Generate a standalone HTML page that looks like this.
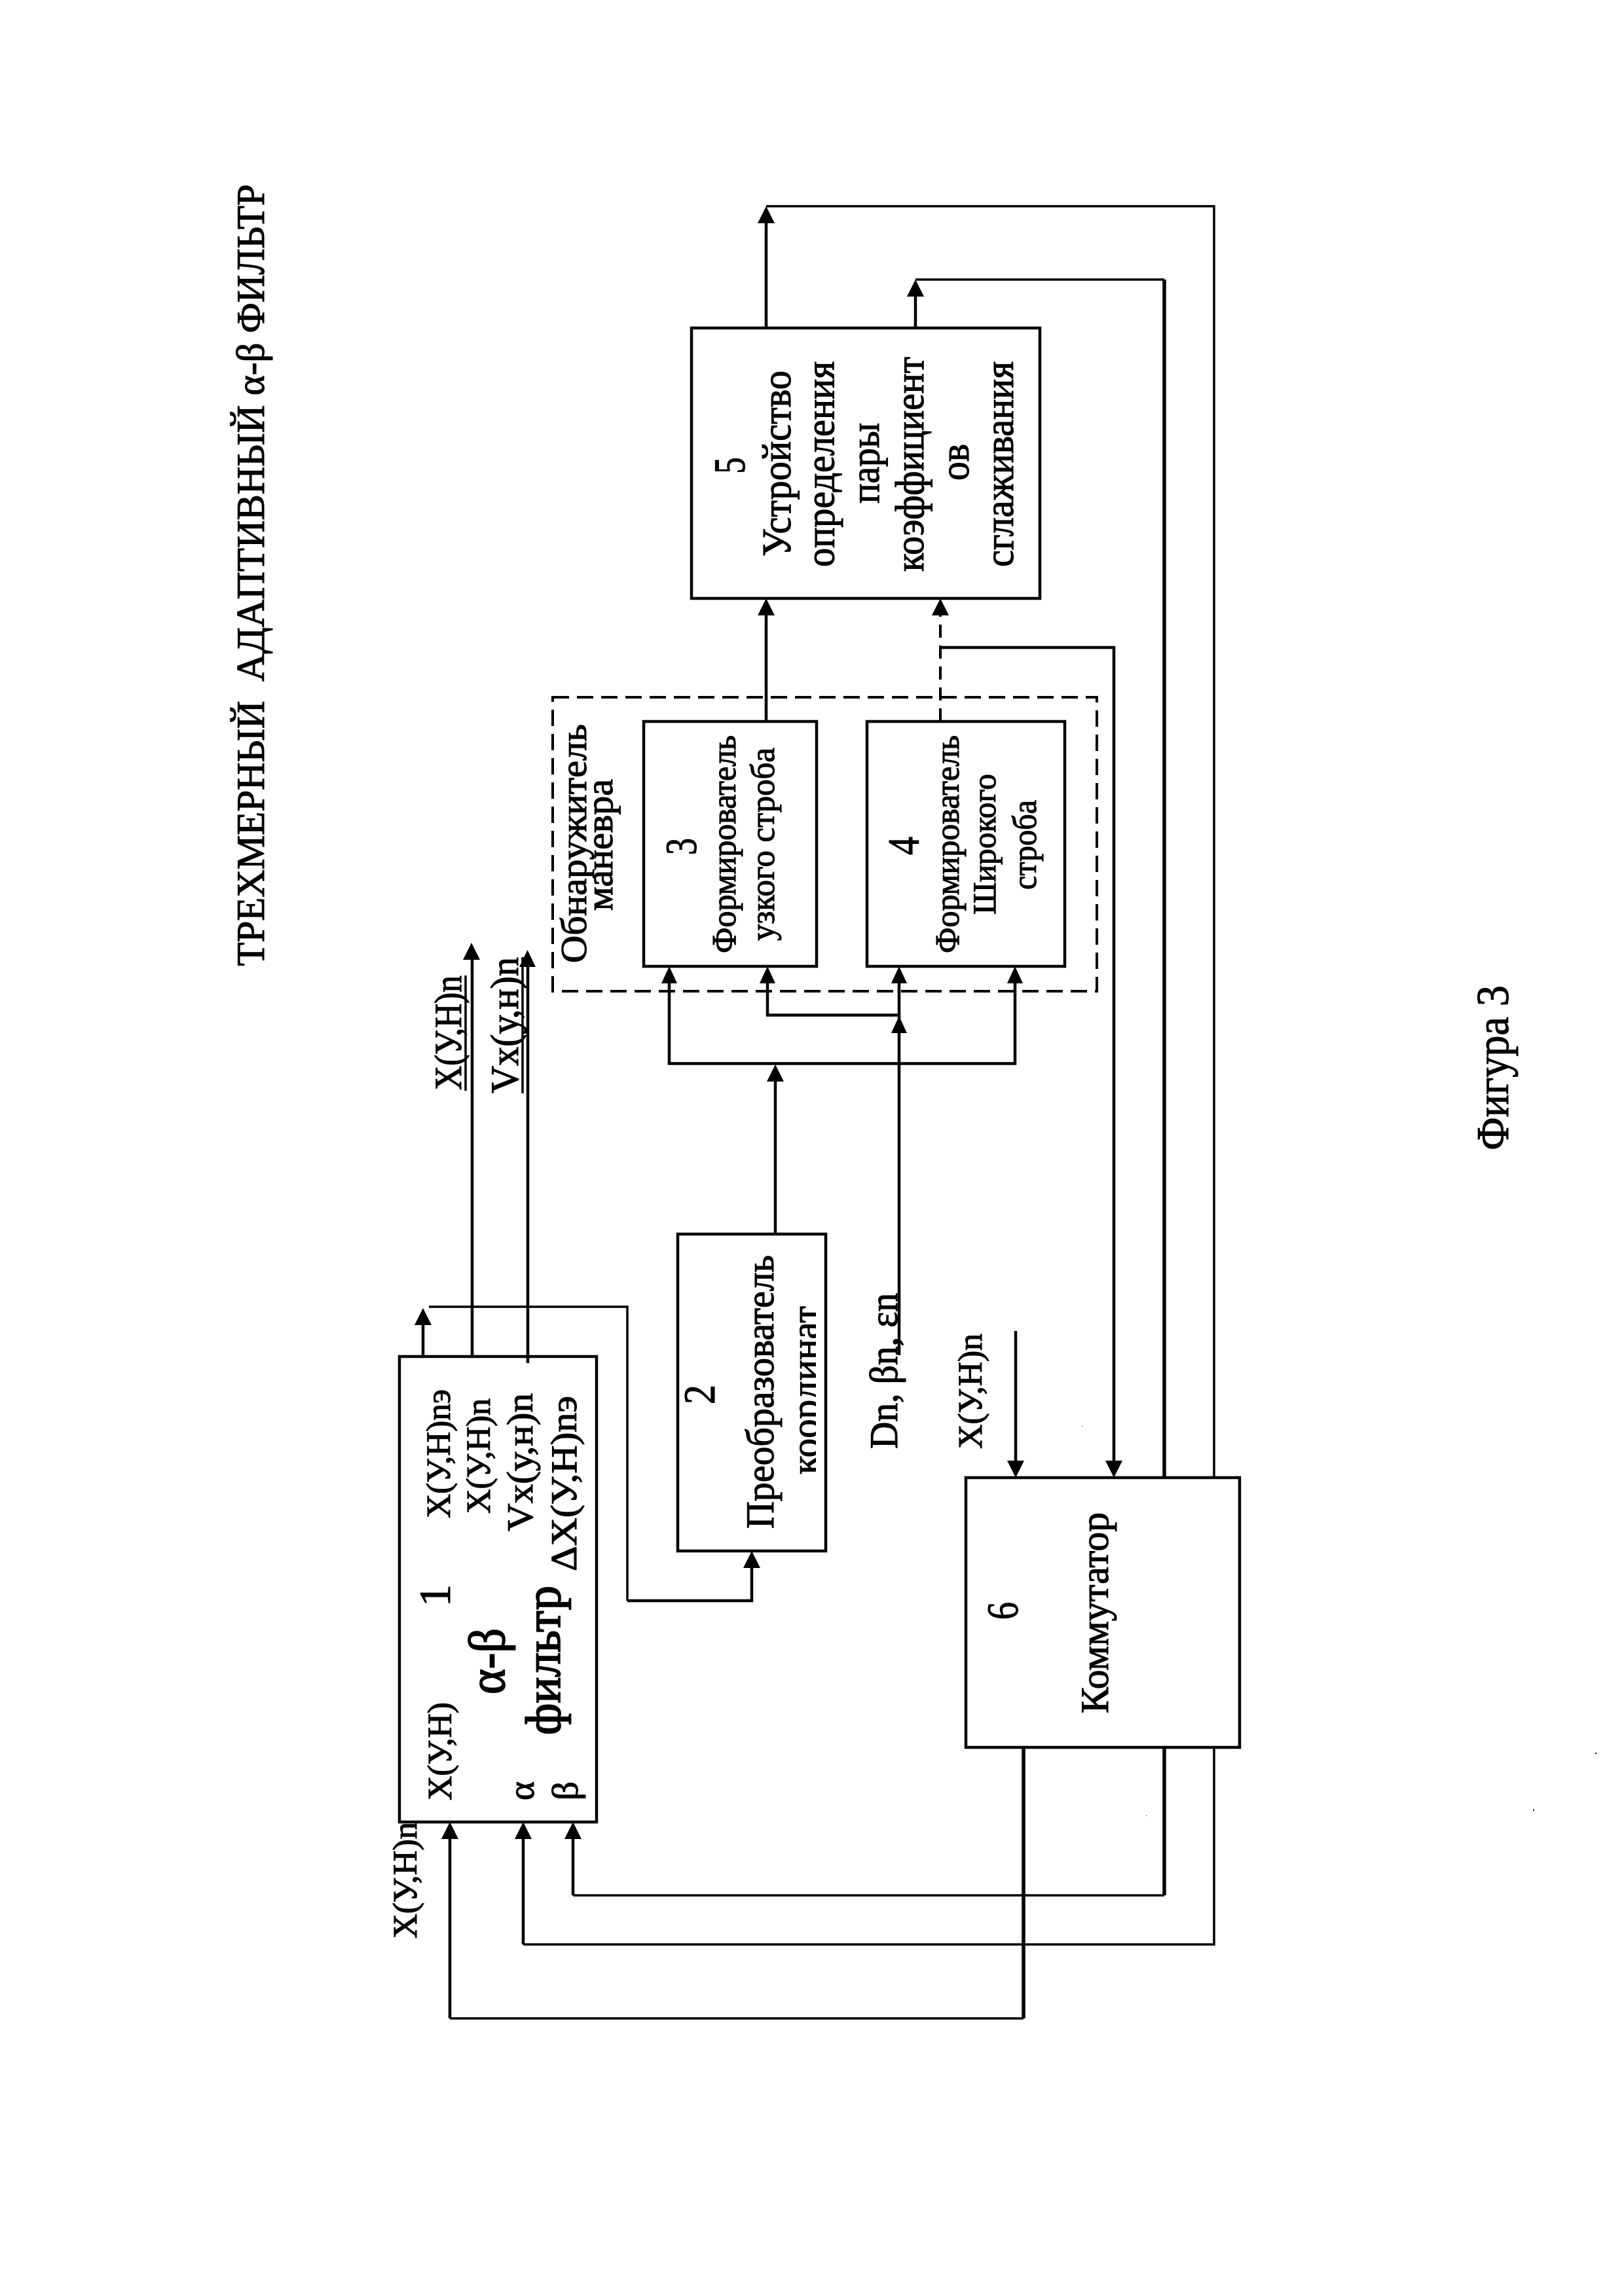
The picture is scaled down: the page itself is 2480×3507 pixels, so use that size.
<!DOCTYPE html>
<html><head><meta charset="utf-8"><style>
html,body{margin:0;padding:0;background:#fff}
svg{display:block}
text{font-family:"Liberation Serif","DejaVu Serif",serif;fill:#000;stroke:#000;stroke-width:1.1;white-space:pre}
.l{fill:none;stroke:#000;stroke-width:4.5;stroke-linejoin:miter}
.t{fill:none;stroke:#000;stroke-width:3.5}
.b{fill:none;stroke:#000;stroke-width:5.5}
.d{fill:none;stroke:#000;stroke-width:4}
polygon{fill:#000}
</style></head><body>
<svg xmlns="http://www.w3.org/2000/svg" width="2480" height="3507" viewBox="0 0 2480 3507">
<defs><clipPath id="c2"><rect x="1150" y="1900" width="96" height="400"/></clipPath></defs>
<rect width="2480" height="3507" fill="#fff"/>

<!-- boxes -->
<rect class="l" x="610" y="2072" width="301" height="711"/>
<rect class="l" x="1035" y="1885" width="226" height="484"/>
<rect class="l" x="983" y="1102" width="264" height="374"/>
<rect class="l" x="1324" y="1102" width="302" height="374"/>
<rect class="l" x="1056" y="501" width="532" height="413"/>
<rect class="l" x="1475" y="2257" width="418" height="412"/>
<rect class="d" x="844" y="1065" width="831" height="449" stroke-dasharray="25 12"/>

<!-- connectors -->
<path class="l" d="M646 2072V2020"/>
<path class="t" d="M655 1996H958V2445"/>
<path class="l" d="M958 2445H1148V2390"/>
<path class="l" d="M721 2072V1460"/>
<path class="l" d="M806 2082V1470"/>
<path class="l" d="M1184 1885V1650"/>
<path class="l" d="M1022 1495V1624.5H1550V1495"/>
<path class="l" d="M1172 1495V1550.5H1373"/>
<path class="l" d="M1373 2070V1495"/>
<path class="l" d="M1170 1102V935"/>
<path class="d" d="M1436 1102V935" stroke-dasharray="20 12"/>
<path class="l" d="M1436 989H1701V2235"/>
<path class="l" d="M1170 501V335"/>
<path class="t" d="M1170 315H1854V2257"/>
<path class="l" d="M1398 501V445"/>
<path class="t" d="M1398 427H1778"/>
<path class="b" d="M1778 427V2257"/>
<path class="l" d="M1551 2033V2235"/>
<path class="b" d="M1563 2669V3083"/>
<path class="t" d="M1563 3083H687"/>
<path class="l" d="M687 3083V2805"/>
<path class="t" d="M1854 2669V2970H799"/>
<path class="l" d="M799 2970V2805"/>
<path class="b" d="M1778 2669V2895"/>
<path class="t" d="M1778 2895H875"/>
<path class="l" d="M875 2895V2805"/>

<!-- arrowheads -->
<polygon points="646,1998 633,2024 659,2024"/>
<polygon points="720,1440 707,1466 733,1466"/>
<polygon points="805.5,1451 793,1477 818,1477"/>
<polygon points="1148,2369 1135,2395 1161,2395"/>
<polygon points="1184,1626 1171,1652 1197,1652"/>
<polygon points="1022,1476 1010,1502 1034,1502"/>
<polygon points="1172,1476 1160,1502 1184,1502"/>
<polygon points="1373,1476 1361,1502 1385,1502"/>
<polygon points="1550,1476 1538,1502 1562,1502"/>
<polygon points="1373,1552 1361,1578 1385,1578"/>
<polygon points="1170,914 1157,940 1183,940"/>
<polygon points="1436,914 1423,940 1449,940"/>
<polygon points="1170,315 1157,341 1183,341"/>
<polygon points="1398,427 1385,453 1411,453"/>
<polygon points="687,2783 674,2809 700,2809"/>
<polygon points="799,2783 786,2809 812,2809"/>
<polygon points="875,2783 862,2809 888,2809"/>
<polygon points="1551,2257 1538,2231 1564,2231"/>
<polygon points="1701,2257 1688,2231 1714,2231"/>

<!-- underlines -->
<path class="t" d="M711 1666V1490"/>
<path class="t" d="M798 1670V1462"/>

<!-- text -->
<text transform="translate(403,1475.5) rotate(-90)" font-size="60" textLength="1194" lengthAdjust="spacingAndGlyphs">ТРЕХМЕРНЫЙ  АДАПТИВНЫЙ α-β ФИЛЬТР</text>
<text transform="translate(2303,1757) rotate(-90)" font-size="70" textLength="252" lengthAdjust="spacingAndGlyphs">Фигура 3</text>

<text transform="translate(687,2319) rotate(-90)" font-size="52" textLength="197" lengthAdjust="spacingAndGlyphs">X(У,Н)nэ</text>
<text transform="translate(748,2312) rotate(-90)" font-size="52" textLength="176" lengthAdjust="spacingAndGlyphs">X(У,Н)n</text>
<text transform="translate(813,2339) rotate(-90)" font-size="56" textLength="211" lengthAdjust="spacingAndGlyphs">Vx(у,н)n</text>
<text transform="translate(880,2400) rotate(-90)" font-size="56" textLength="268" lengthAdjust="spacingAndGlyphs">ΔX(У,Н)nэ</text>
<text transform="translate(687,2454) rotate(-90)" font-size="68">1</text>
<text transform="translate(770,2588) rotate(-90)" font-size="78" textLength="101" lengthAdjust="spacingAndGlyphs" style="stroke-width:1.8">α-β</text>
<text transform="translate(855,2650) rotate(-90)" font-size="76" textLength="228" lengthAdjust="spacingAndGlyphs" style="stroke-width:1.8">фильтр</text>
<text transform="translate(689,2750) rotate(-90)" font-size="52" textLength="150" lengthAdjust="spacingAndGlyphs">X(У,Н)</text>
<text transform="translate(815,2750) rotate(-90)" font-size="56" textLength="29" lengthAdjust="spacingAndGlyphs">α</text>
<text transform="translate(882,2750) rotate(-90)" font-size="56" textLength="29" lengthAdjust="spacingAndGlyphs">β</text>
<text transform="translate(636,2961) rotate(-90)" font-size="52" textLength="178" lengthAdjust="spacingAndGlyphs">X(У,Н)n</text>

<text transform="translate(704,1665) rotate(-90)" font-size="58" textLength="175" lengthAdjust="spacingAndGlyphs">X(У,Н)n</text>
<text transform="translate(791,1670) rotate(-90)" font-size="60" textLength="208" lengthAdjust="spacingAndGlyphs">Vx(у,н)n</text>

<text transform="translate(1091,2145) rotate(-90)" font-size="68" textLength="30" lengthAdjust="spacingAndGlyphs">2</text>
<text transform="translate(1181,2335) rotate(-90)" font-size="60" textLength="418" lengthAdjust="spacingAndGlyphs">Преобразователь</text>
<g clip-path="url(#c2)"><text transform="translate(1250,2252) rotate(-90)" font-size="60" textLength="257" lengthAdjust="spacingAndGlyphs">координат</text></g>

<text transform="translate(1370,2213) rotate(-90)" font-size="60" textLength="238" lengthAdjust="spacingAndGlyphs">Dn, βn, εn</text>
<text transform="translate(1499,2213) rotate(-90)" font-size="52" textLength="176" lengthAdjust="spacingAndGlyphs">X(У,Н)n</text>

<text transform="translate(1554,2474) rotate(-90)" font-size="68" textLength="27" lengthAdjust="spacingAndGlyphs">6</text>
<text transform="translate(1692,2617) rotate(-90)" font-size="60" textLength="307" lengthAdjust="spacingAndGlyphs">Коммутатор</text>

<text transform="translate(895,1471) rotate(-90)" font-size="56" textLength="365" lengthAdjust="spacingAndGlyphs">Обнаружитель</text>
<text transform="translate(935,1391) rotate(-90)" font-size="58" textLength="201" lengthAdjust="spacingAndGlyphs">маневра</text>

<text transform="translate(1063,1306) rotate(-90)" font-size="68" textLength="26" lengthAdjust="spacingAndGlyphs">3</text>
<text transform="translate(1123,1456) rotate(-90)" font-size="52" textLength="333" lengthAdjust="spacingAndGlyphs">Формирователь</text>
<text transform="translate(1182,1437) rotate(-90)" font-size="52" textLength="295" lengthAdjust="spacingAndGlyphs">узкого строба</text>

<text transform="translate(1403,1306) rotate(-90)" font-size="68" textLength="28" lengthAdjust="spacingAndGlyphs">4</text>
<text transform="translate(1464,1456) rotate(-90)" font-size="52" textLength="333" lengthAdjust="spacingAndGlyphs">Формирователь</text>
<text transform="translate(1520,1397) rotate(-90)" font-size="50" textLength="215" lengthAdjust="spacingAndGlyphs">Широкого</text>
<text transform="translate(1582,1359) rotate(-90)" font-size="52" textLength="137" lengthAdjust="spacingAndGlyphs">строба</text>

<text transform="translate(1137,723.5) rotate(-90)" font-size="68" textLength="25" lengthAdjust="spacingAndGlyphs">5</text>
<text transform="translate(1207,850) rotate(-90)" font-size="62" textLength="284" lengthAdjust="spacingAndGlyphs">Устройство</text>
<text transform="translate(1273.5,866) rotate(-90)" font-size="62" textLength="314" lengthAdjust="spacingAndGlyphs">определения</text>
<text transform="translate(1342,769) rotate(-90)" font-size="62" textLength="123" lengthAdjust="spacingAndGlyphs">пары</text>
<text transform="translate(1410,873) rotate(-90)" font-size="62" textLength="328" lengthAdjust="spacingAndGlyphs">коэффициент</text>
<text transform="translate(1479,734) rotate(-90)" font-size="62" textLength="56" lengthAdjust="spacingAndGlyphs">ов</text>
<text transform="translate(1547,866) rotate(-90)" font-size="62" textLength="314" lengthAdjust="spacingAndGlyphs">сглаживания</text>

<!-- specks -->
<rect x="2436" y="2677" width="2" height="2" fill="#000"/>
<rect x="2341" y="2764" width="2" height="2" fill="#000"/>
<rect x="1652" y="2178" width="1" height="1" fill="#000"/>
<rect x="1750" y="2773" width="1" height="1" fill="#000"/>
</svg>
</body></html>
